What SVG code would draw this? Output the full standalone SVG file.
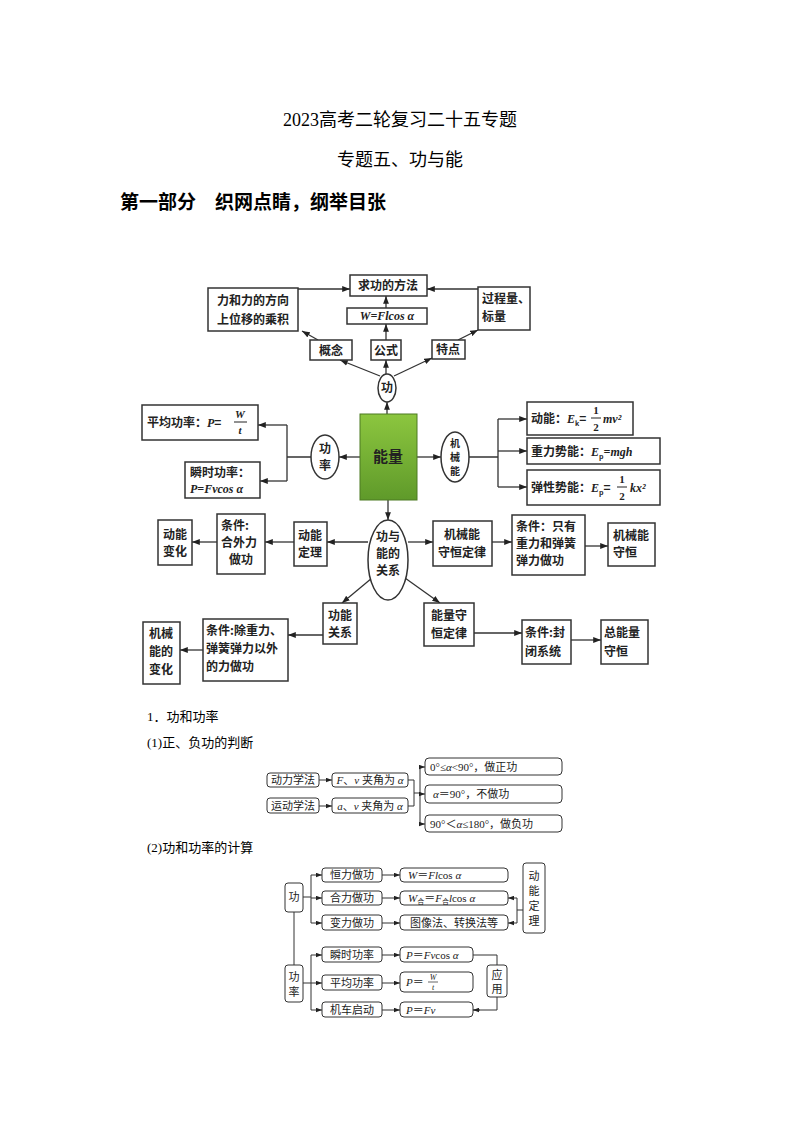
<svg xmlns="http://www.w3.org/2000/svg" width="800" height="1132" viewBox="0 0 800 1132">
<defs>
<marker id="a" viewBox="0 0 8 6" refX="8" refY="3" markerWidth="6" markerHeight="5" orient="auto"><path d="M0,0 L8,3 L0,6 z" fill="#222"/></marker>
<linearGradient id="g" x1="0" y1="0" x2="0" y2="1"><stop offset="0" stop-color="#8cc63f"/><stop offset="1" stop-color="#5f9a2a"/></linearGradient>
</defs>
<style>
.b{fill:#fff;stroke:#333;stroke-width:1.5}
.r{fill:#fff;stroke:#333;stroke-width:1}
.l{fill:none;stroke:#333;stroke-width:1.3}
.l2{fill:none;stroke:#333;stroke-width:1}
.t{font-family:"Noto Sans CJK SC","Liberation Serif",sans-serif;font-size:12px;font-weight:bold;fill:#222}
.s{font-family:"Liberation Serif","Noto Sans CJK SC",serif;font-size:11px;fill:#222}
.m{font-family:"Liberation Serif",serif;font-style:italic}
.h{font-family:"Liberation Serif","Noto Sans CJK SC",serif;fill:#000}
</style>
<rect width="800" height="1132" fill="#fff"/>
<g id="headings">
<text class="h" x="400" y="126" font-size="18" text-anchor="middle">2023高考二轮复习二十五专题</text>
<text class="h" x="400" y="166" font-size="18" text-anchor="middle">专题五、功与能</text>
<text class="h" x="120" y="209" font-size="19" font-weight="bold">第一部分　织网点睛，纲举目张</text>
<text class="h" x="147" y="721" font-size="13">1．功和功率</text>
<text class="h" x="147" y="747" font-size="13">(1)正、负功的判断</text>
<text class="h" x="147" y="852" font-size="13">(2)功和功率的计算</text>
</g>
<g id="connectors">
<path class="l" d="M298,289 H350" marker-end="url(#a)"/>
<path class="l" d="M478,289 H427" marker-end="url(#a)"/>
<path class="l" d="M386,308 V296" marker-end="url(#a)"/>
<path class="l" d="M386,340 V324" marker-end="url(#a)"/>
<path class="l" d="M386,374 V360" marker-end="url(#a)"/>
<path class="l" d="M380,376 L340,360" marker-end="url(#a)"/>
<path class="l" d="M394,376 L432,358" marker-end="url(#a)"/>
<path class="l" d="M318,340 L302,331" marker-end="url(#a)"/>
<path class="l" d="M458,340 L478,330" marker-end="url(#a)"/>
<path class="l" d="M387,414 V402" marker-end="url(#a)"/>
<path class="l" d="M360,457 H339" marker-end="url(#a)"/>
<path class="l" d="M311,457 H287 M287,425 V481"/>
<path class="l" d="M287,425 H258" marker-end="url(#a)"/>
<path class="l" d="M287,481 H260" marker-end="url(#a)"/>
<path class="l" d="M417,457 H441" marker-end="url(#a)"/>
<path class="l" d="M469,457 H498 M498,419 V487"/>
<path class="l" d="M498,419 H527" marker-end="url(#a)"/>
<path class="l" d="M498,451 H527" marker-end="url(#a)"/>
<path class="l" d="M498,487 H527" marker-end="url(#a)"/>
<path class="l" d="M388,500 V520" marker-end="url(#a)"/>
<path class="l" d="M368,542 H327" marker-end="url(#a)"/>
<path class="l" d="M294,542 H265" marker-end="url(#a)"/>
<path class="l" d="M217,542 H192" marker-end="url(#a)"/>
<path class="l" d="M408,542 H433" marker-end="url(#a)"/>
<path class="l" d="M492,542 H512" marker-end="url(#a)"/>
<path class="l" d="M585,546 H608" marker-end="url(#a)"/>
<path class="l" d="M372,578 L342,603" marker-end="url(#a)"/>
<path class="l" d="M405,578 L440,603" marker-end="url(#a)"/>
<path class="l" d="M323,635 H288" marker-end="url(#a)"/>
<path class="l" d="M203,650 H180" marker-end="url(#a)"/>
<path class="l" d="M474,633 H522" marker-end="url(#a)"/>
<path class="l" d="M571,640 H601" marker-end="url(#a)"/>
<path class="l2" d="M319,780 H332" marker-end="url(#a)"/>
<path class="l2" d="M319,806 H332" marker-end="url(#a)"/>
<path class="l2" d="M408,780 H414 V806 H408 M414,793 H420 M420,767 V824"/>
<path class="l2" d="M420,767 H425" marker-end="url(#a)"/>
<path class="l2" d="M420,794 H425" marker-end="url(#a)"/>
<path class="l2" d="M420,824 H425" marker-end="url(#a)"/>
<path class="l2" d="M303,897 H311 M311,875 V923 M294,912 V965"/>
<path class="l2" d="M311,875 H322" marker-end="url(#a)"/>
<path class="l2" d="M311,898 H322" marker-end="url(#a)"/>
<path class="l2" d="M311,923 H322" marker-end="url(#a)"/>
<path class="l2" d="M382,875 H400" marker-end="url(#a)"/>
<path class="l2" d="M382,898 H400" marker-end="url(#a)"/>
<path class="l2" d="M382,923 H400" marker-end="url(#a)"/>
<path class="l2" d="M523,910 H517 M517,898 V923"/>
<path class="l2" d="M517,898 H508" marker-end="url(#a)"/>
<path class="l2" d="M517,923 H508" marker-end="url(#a)"/>
<path class="l2" d="M303,983 H311 M311,955 V1010"/>
<path class="l2" d="M311,955 H322" marker-end="url(#a)"/>
<path class="l2" d="M311,983 H322" marker-end="url(#a)"/>
<path class="l2" d="M311,1010 H322" marker-end="url(#a)"/>
<path class="l2" d="M382,955 H400" marker-end="url(#a)"/>
<path class="l2" d="M382,983 H400" marker-end="url(#a)"/>
<path class="l2" d="M382,1010 H400" marker-end="url(#a)"/>
<path class="l2" d="M473,955 H497 V965 M497,997 V1010 H473" />
<path class="l2" d="M480,1010 H473" marker-end="url(#a)"/>
</g>
<g id="n-qiu"><rect class="b" x="350" y="275" width="77" height="21"/><text class="t" x="388" y="290" text-anchor="middle">求功的方法</text></g>
<g id="n-lihe"><rect class="b" x="208" y="288" width="90" height="43"/><text class="t" x="253" y="305" text-anchor="middle">力和力的方向</text><text class="t" x="253" y="324" text-anchor="middle">上位移的乘积</text></g>
<g id="n-W"><rect class="b" x="347" y="308" width="80" height="16"/><text class="t" x="387" y="320" text-anchor="middle"><tspan class="m">W=Flcos α</tspan></text></g>
<g id="n-guocheng"><rect class="b" x="478" y="287" width="52" height="43"/><text class="t" x="482" y="303">过程量、</text><text class="t" x="482" y="321">标量</text></g>
<g id="n-gainian"><rect class="b" x="310" y="340" width="42" height="20"/><text class="t" x="331" y="355" text-anchor="middle">概念</text></g>
<g id="n-gongshi"><rect class="b" x="371" y="340" width="30" height="20"/><text class="t" x="386" y="355" text-anchor="middle">公式</text></g>
<g id="n-tedian"><rect class="b" x="432" y="340" width="33" height="19"/><text class="t" x="448" y="354" text-anchor="middle">特点</text></g>
<g id="n-gong"><ellipse class="b" cx="387" cy="388" rx="9" ry="14"/><text class="t" x="387" y="392" text-anchor="middle" font-size="11">功</text></g>
<g id="n-nengliang"><rect x="360" y="414" width="57" height="86" fill="url(#g)" stroke="#4d7a22"/><text class="t" x="388" y="462" text-anchor="middle" style="font-size:15px">能量</text></g>
<g id="n-gonglv"><ellipse class="b" cx="325" cy="457" rx="14" ry="22"/><text class="t" x="325" y="453" text-anchor="middle">功</text><text class="t" x="325" y="470" text-anchor="middle">率</text></g>
<g id="n-pingjun"><rect class="b" x="142" y="405" width="116" height="35"/><text class="t" x="147" y="427">平均功率：<tspan class="m">P</tspan>=</text><text class="s" x="240" y="418" text-anchor="middle" font-weight="bold"><tspan class="m">W</tspan></text><path d="M234,422 H247" stroke="#222"/><text class="s" x="240" y="434" text-anchor="middle" font-weight="bold"><tspan class="m">t</tspan></text></g>
<g id="n-shunshi"><rect class="b" x="185" y="462" width="75" height="36"/><text class="t" x="190" y="477">瞬时功率：</text><text class="t" x="190" y="493"><tspan class="m">P=Fvcos α</tspan></text></g>
<g id="n-jixie"><ellipse class="b" cx="455" cy="457" rx="14" ry="25"/><text class="t" x="455" y="447" text-anchor="middle" style="font-size:10px">机</text><text class="t" x="455" y="461" text-anchor="middle" style="font-size:10px">械</text><text class="t" x="455" y="475" text-anchor="middle" style="font-size:10px">能</text></g>
<g id="n-dongneng"><rect class="b" x="527" y="402" width="106" height="33"/><text class="t" x="531" y="423">动能：<tspan class="m">E</tspan><tspan style="font-size:7px" dy="3">k</tspan><tspan dy="-3">=</tspan></text><text class="s" x="596" y="414" text-anchor="middle" font-weight="bold">1</text><path d="M591,418 H601" stroke="#222"/><text class="s" x="596" y="431" text-anchor="middle" font-weight="bold">2</text><text class="t" x="603" y="423"><tspan class="m">mv²</tspan></text></g>
<g id="n-zhongli"><rect class="b" x="527" y="438" width="133" height="26"/><text class="t" x="531" y="456">重力势能：<tspan class="m">E</tspan><tspan style="font-size:7px" dy="3">p</tspan><tspan dy="-3" class="m">=mgh</tspan></text></g>
<g id="n-tanxing"><rect class="b" x="527" y="470" width="133" height="35"/><text class="t" x="531" y="492">弹性势能：<tspan class="m">E</tspan><tspan style="font-size:7px" dy="3">p</tspan><tspan dy="-3">=</tspan></text><text class="s" x="622" y="483" text-anchor="middle" font-weight="bold">1</text><path d="M617,487 H627" stroke="#222"/><text class="s" x="622" y="500" text-anchor="middle" font-weight="bold">2</text><text class="t" x="630" y="492"><tspan class="m">kx²</tspan></text></g>
<g id="n-guanxi"><ellipse class="b" cx="388" cy="560" rx="20" ry="40"/><text class="t" x="388" y="541" text-anchor="middle">功与</text><text class="t" x="388" y="558" text-anchor="middle">能的</text><text class="t" x="388" y="575" text-anchor="middle">关系</text></g>
<g id="n-dldl"><rect class="b" x="294" y="522" width="33" height="44"/><text class="t" x="310" y="540" text-anchor="middle">动能</text><text class="t" x="310" y="557" text-anchor="middle">定理</text></g>
<g id="n-hewai"><rect class="b" x="217" y="514" width="48" height="60"/><text class="t" x="221" y="530">条件:</text><text class="t" x="221" y="547">合外力</text><text class="t" x="229" y="564">做功</text></g>
<g id="n-dnbh"><rect class="b" x="158" y="520" width="34" height="45"/><text class="t" x="175" y="539" text-anchor="middle">动能</text><text class="t" x="175" y="556" text-anchor="middle">变化</text></g>
<g id="n-jxsh"><rect class="b" x="433" y="521" width="59" height="45"/><text class="t" x="462" y="539" text-anchor="middle">机械能</text><text class="t" x="462" y="557" text-anchor="middle">守恒定律</text></g>
<g id="n-zhiyou"><rect class="b" x="512" y="515" width="73" height="60"/><text class="t" x="516" y="531">条件：只有</text><text class="t" x="516" y="548">重力和弹簧</text><text class="t" x="516" y="565">弹力做功</text></g>
<g id="n-jxnsh"><rect class="b" x="608" y="523" width="47" height="43"/><text class="t" x="631" y="540" text-anchor="middle">机械能</text><text class="t" x="625" y="557" text-anchor="middle">守恒</text></g>
<g id="n-gngx"><rect class="b" x="323" y="603" width="34" height="41"/><text class="t" x="340" y="620" text-anchor="middle">功能</text><text class="t" x="340" y="637" text-anchor="middle">关系</text></g>
<g id="n-nlsh"><rect class="b" x="424" y="603" width="50" height="43"/><text class="t" x="449" y="620" text-anchor="middle">能量守</text><text class="t" x="449" y="638" text-anchor="middle">恒定律</text></g>
<g id="n-chuzl"><rect class="b" x="203" y="619" width="85" height="62"/><text class="t" x="206" y="635">条件:除重力、</text><text class="t" x="206" y="653">弹簧弹力以外</text><text class="t" x="206" y="671">的力做功</text></g>
<g id="n-jxbh"><rect class="b" x="143" y="622" width="37" height="62"/><text class="t" x="161" y="638" text-anchor="middle">机械</text><text class="t" x="161" y="656" text-anchor="middle">能的</text><text class="t" x="161" y="674" text-anchor="middle">变化</text></g>
<g id="n-fengbi"><rect class="b" x="522" y="620" width="49" height="44"/><text class="t" x="525" y="637">条件:封</text><text class="t" x="525" y="656">闭系统</text></g>
<g id="n-zongnl"><rect class="b" x="601" y="620" width="47" height="44"/><text class="t" x="604" y="637">总能量</text><text class="t" x="604" y="656">守恒</text></g>
<g id="s-dongli"><rect class="r" x="267" y="773" width="52" height="14" rx="3"/><text class="s" x="293" y="784" text-anchor="middle">动力学法</text></g>
<g id="s-yundong"><rect class="r" x="267" y="798" width="52" height="15" rx="3"/><text class="s" x="293" y="810" text-anchor="middle">运动学法</text></g>
<g id="s-Fv"><rect class="r" x="332" y="773" width="76" height="14" rx="3"/><text class="s" x="370" y="784" text-anchor="middle"><tspan class="m">F</tspan>、<tspan class="m">v</tspan> 夹角为 <tspan class="m">α</tspan></text></g>
<g id="s-av"><rect class="r" x="332" y="798" width="76" height="15" rx="3"/><text class="s" x="370" y="810" text-anchor="middle"><tspan class="m">a</tspan>、<tspan class="m">v</tspan> 夹角为 <tspan class="m">α</tspan></text></g>
<g id="s-pos"><rect class="r" x="425" y="758" width="137" height="17" rx="4"/><text class="s" x="430" y="771">0°≤<tspan class="m">α</tspan>&lt;90°，做正功</text></g>
<g id="s-zero"><rect class="r" x="425" y="785" width="137" height="18" rx="4"/><text class="s" x="433" y="798"><tspan class="m">α</tspan>＝90°，不做功</text></g>
<g id="s-neg"><rect class="r" x="425" y="815" width="137" height="17" rx="4"/><text class="s" x="430" y="828">90°＜<tspan class="m">α</tspan>≤180°，做负功</text></g>
<g id="s-gong"><rect class="r" x="285" y="883" width="18" height="29" rx="3"/><text class="s" x="294" y="901" text-anchor="middle">功</text></g>
<g id="s-gonglv"><rect class="r" x="285" y="965" width="18" height="37" rx="3"/><text class="s" x="294" y="981" text-anchor="middle">功</text><text class="s" x="294" y="996" text-anchor="middle">率</text></g>
<g id="s-hengli"><rect class="r" x="322" y="868" width="60" height="14" rx="3"/><text class="s" x="352" y="879" text-anchor="middle">恒力做功</text></g>
<g id="s-heli"><rect class="r" x="322" y="891" width="60" height="14" rx="3"/><text class="s" x="352" y="902" text-anchor="middle">合力做功</text></g>
<g id="s-bianli"><rect class="r" x="322" y="915" width="60" height="15" rx="3"/><text class="s" x="352" y="927" text-anchor="middle">变力做功</text></g>
<g id="s-W1"><rect class="r" x="400" y="868" width="108" height="14" rx="4"/><text class="s" x="408" y="879"><tspan class="m">W</tspan>＝<tspan class="m">Fl</tspan>cos <tspan class="m">α</tspan></text></g>
<g id="s-W2"><rect class="r" x="400" y="891" width="108" height="14" rx="4"/><text class="s" x="408" y="902"><tspan class="m">W</tspan><tspan style="font-size:7px" dy="2">合</tspan><tspan dy="-2">＝</tspan><tspan class="m">F</tspan><tspan style="font-size:7px" dy="2">合</tspan><tspan dy="-2" class="m">l</tspan>cos <tspan class="m">α</tspan></text></g>
<g id="s-W3"><rect class="r" x="400" y="915" width="108" height="15" rx="4"/><text class="s" x="454" y="927" text-anchor="middle">图像法、转换法等</text></g>
<g id="s-dndl"><rect class="r" x="523" y="863" width="22" height="70" rx="3"/><text class="s" x="534" y="880" text-anchor="middle">动</text><text class="s" x="534" y="895" text-anchor="middle">能</text><text class="s" x="534" y="910" text-anchor="middle">定</text><text class="s" x="534" y="925" text-anchor="middle">理</text></g>
<g id="s-shunshi"><rect class="r" x="322" y="947" width="60" height="15" rx="3"/><text class="s" x="352" y="959" text-anchor="middle">瞬时功率</text></g>
<g id="s-pingjun"><rect class="r" x="322" y="975" width="60" height="15" rx="3"/><text class="s" x="352" y="987" text-anchor="middle">平均功率</text></g>
<g id="s-jiche"><rect class="r" x="322" y="1002" width="60" height="15" rx="3"/><text class="s" x="352" y="1014" text-anchor="middle">机车启动</text></g>
<g id="s-P1"><rect class="r" x="400" y="947" width="73" height="15" rx="4"/><text class="s" x="406" y="959"><tspan class="m">P</tspan>＝<tspan class="m">Fv</tspan>cos <tspan class="m">α</tspan></text></g>
<g id="s-P2"><rect class="r" x="400" y="972" width="73" height="20" rx="4"/><text class="s" x="406" y="986"><tspan class="m">P</tspan>＝</text><text class="s" x="433" y="980" text-anchor="middle" style="font-size:8px"><tspan class="m">W</tspan></text><path d="M428,982 H438" stroke="#222" stroke-width="0.7"/><text class="s" x="433" y="990" text-anchor="middle" style="font-size:8px"><tspan class="m">t</tspan></text></g>
<g id="s-P3"><rect class="r" x="400" y="1002" width="73" height="15" rx="4"/><text class="s" x="406" y="1014"><tspan class="m">P</tspan>＝<tspan class="m">Fv</tspan></text></g>
<g id="s-yingyong"><rect class="r" x="487" y="965" width="20" height="32" rx="3"/><text class="s" x="497" y="979" text-anchor="middle">应</text><text class="s" x="497" y="993" text-anchor="middle">用</text></g>
</svg>
